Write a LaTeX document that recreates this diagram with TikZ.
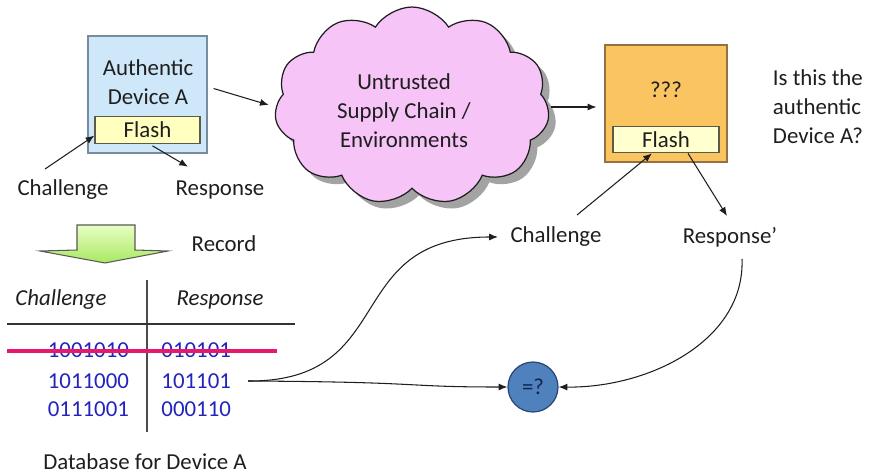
\documentclass[tikz,border=0pt]{standalone}
\usepackage{fontspec}
\setmainfont{Carlito}
\usepackage{tikz}
\usetikzlibrary{positioning, calc, arrows.meta, shapes.symbols, shadows}

\definecolor{inkgray}{RGB}{30,30,30}
\definecolor{devblue}{RGB}{206,232,250}
\definecolor{devblueline}{RGB}{120,140,160}
\definecolor{flashyellow}{RGB}{255,255,192}
\definecolor{flashline}{RGB}{90,90,70}
\definecolor{cloudpink}{RGB}{246,196,246}
\definecolor{devorange}{RGB}{250,196,96}
\definecolor{devorangeline}{RGB}{150,112,62}
\definecolor{flashpale}{RGB}{255,255,208}
\definecolor{bitblue}{RGB}{35,35,190}
\definecolor{strikered}{RGB}{230,25,110}
\definecolor{cmpblue}{RGB}{79,129,189}
\definecolor{cmpline}{RGB}{40,70,120}
\definecolor{cmptext}{RGB}{20,35,80}
\definecolor{recgreentop}{RGB}{232,255,196}
\definecolor{recgreenbot}{RGB}{168,232,98}

\tikzset{
  lbl/.style={inner sep=1pt, text=inkgray, align=center,
    font=\fontsize{13}{16.5}\selectfont},
  bits/.style={lbl, text=bitblue, anchor=east},
  devbox/.style={shape=rectangle, draw=#1line, fill=#1, line width=0.7pt},
  flashbox/.style={shape=rectangle, draw=flashline, fill=#1, line width=0.7pt,
    minimum height=0.53cm, inner sep=0pt, text=inkgray,
    font=\fontsize{13}{16.5}\selectfont},
  arr/.style={-{Latex[length=5pt,width=4pt]}, line width=0.6pt, draw=inkgray},
}

\begin{document}
\begin{tikzpicture}[x=0.02cm, y=-0.02cm]
    \useasboundingbox (0,0) rectangle (871,473);

    \node[devbox=devblue, minimum width=2.38cm, minimum height=2.34cm] (devA) at (147.5,94.5) {};
    \node[lbl] (devAtxt) at (148,82) {Authentic\\Device A};
    \node[flashbox=flashyellow, minimum width=2.1cm] (flashA) at (147.5,130) {Flash};

    \node[lbl] (chalA) at (63,190) {Challenge};
    \node[lbl] (respA) at (220,190) {Response};
    \draw[arr] ($(chalA.north)+(-18,-9)$) -- (flashA.186);
    \draw[arr] ($(flashA.south)+(5,2)$) -- ($(respA.north)+(-32,-12)$);

    \node[shape=cloud, cloud puffs=11, cloud puff arc=115, cloud ignores aspect,
      draw=inkgray, fill=cloudpink, line width=0.7pt, minimum width=5.5cm, minimum height=3.96cm,
      drop shadow={shadow xshift=4pt, shadow yshift=-4pt, fill=gray!80, opacity=0.9}] (cloud) at (412,106) {};
    \node[lbl] (cloudtxt) at (404,111) {Untrusted\\Supply Chain /\\Environments};
    \draw[arr] ($(devA.east)+(6,-6)$) -- ($(cloud.west)+(-7,-1)$);

    \node[devbox=devorange, minimum width=2.44cm, minimum height=2.34cm] (devB) at (666,103.5) {};
    \node[lbl] (devBtxt) at (666,90) {???};
    \node[flashbox=flashpale, minimum width=2.12cm] (flashB) at (666,139.5) {Flash};
    \draw[arr] ($(cloud.east)+(3,1)$) -- ($(devB.west |- cloud.east)+(-8,1)$);

    \node[lbl, align=left] (question) at (818,107) {Is this the\\authentic\\Device A?};

    \node[lbl] (chalB) at (556,237) {Challenge};
    \node[lbl] (respB) at (730,237) {Response’};
    \draw[arr] ($(chalB.north)+(21,-10)$) -- ($(flashB.south)+(-14,0)$);
    \draw[arr] ($(flashB.south)+(22,0)$) -- ($(respB.north)+(-3,-9)$);

    \draw[draw=black!65, line width=0.6pt, top color=recgreentop, bottom color=recgreenbot]
      (77,225) -- (135,225) -- (135,250) -- (168,251) -- (105,263) -- (40,251) -- (77,250) -- cycle;
    \node[lbl] (record) at (224,244) {Record};

    \node[lbl, font=\fontsize{13}{16.5}\itshape] (hdrChal) at (61,300) {Challenge};
    \node[lbl, font=\fontsize{13}{16.5}\itshape] (hdrResp) at (220,300) {Response};
    \draw[line width=0.7pt, draw=black!70] (147,280) -- (147,432);
    \draw[line width=0.7pt, draw=black!80] (7,324) -- (295,324);

    \node[bits] (r1a) at (131,350) {1001010};
    \node[bits] (r1b) at (233,350) {010101};
    \node[bits] (r2a) at (131,381) {1011000};
    \node[bits] (r2b) at (233,381) {101101};
    \node[bits] (r3a) at (131,409) {0111001};
    \node[bits] (r3b) at (233,409) {000110};
    \draw[strikered, line width=1.8pt] (7,351) -- (277,351);

    \node[lbl] (dbname) at (145,462) {Database for Device A};

    \node[shape=circle, draw=cmpline, fill=cmpblue, line width=0.7pt, minimum size=1cm, inner sep=0pt,
      text=cmptext, font=\fontsize{13}{16.5}\selectfont] (cmp) at (533,387) {=?};

    \coordinate (dbout) at ($(r2b.east)+(15,0)$);
    \draw[arr, shorten >=6pt] (dbout) .. controls (400,382) and (340,237) .. (chalB.west);
    \draw[arr] (dbout) .. controls (430,382) and (400,387) .. (cmp.west);
    \draw[arr] ($(respB.south)+(12,10)$) .. controls (745,340) and (650,388) .. (cmp.east);

  \end{tikzpicture}
\end{document}
